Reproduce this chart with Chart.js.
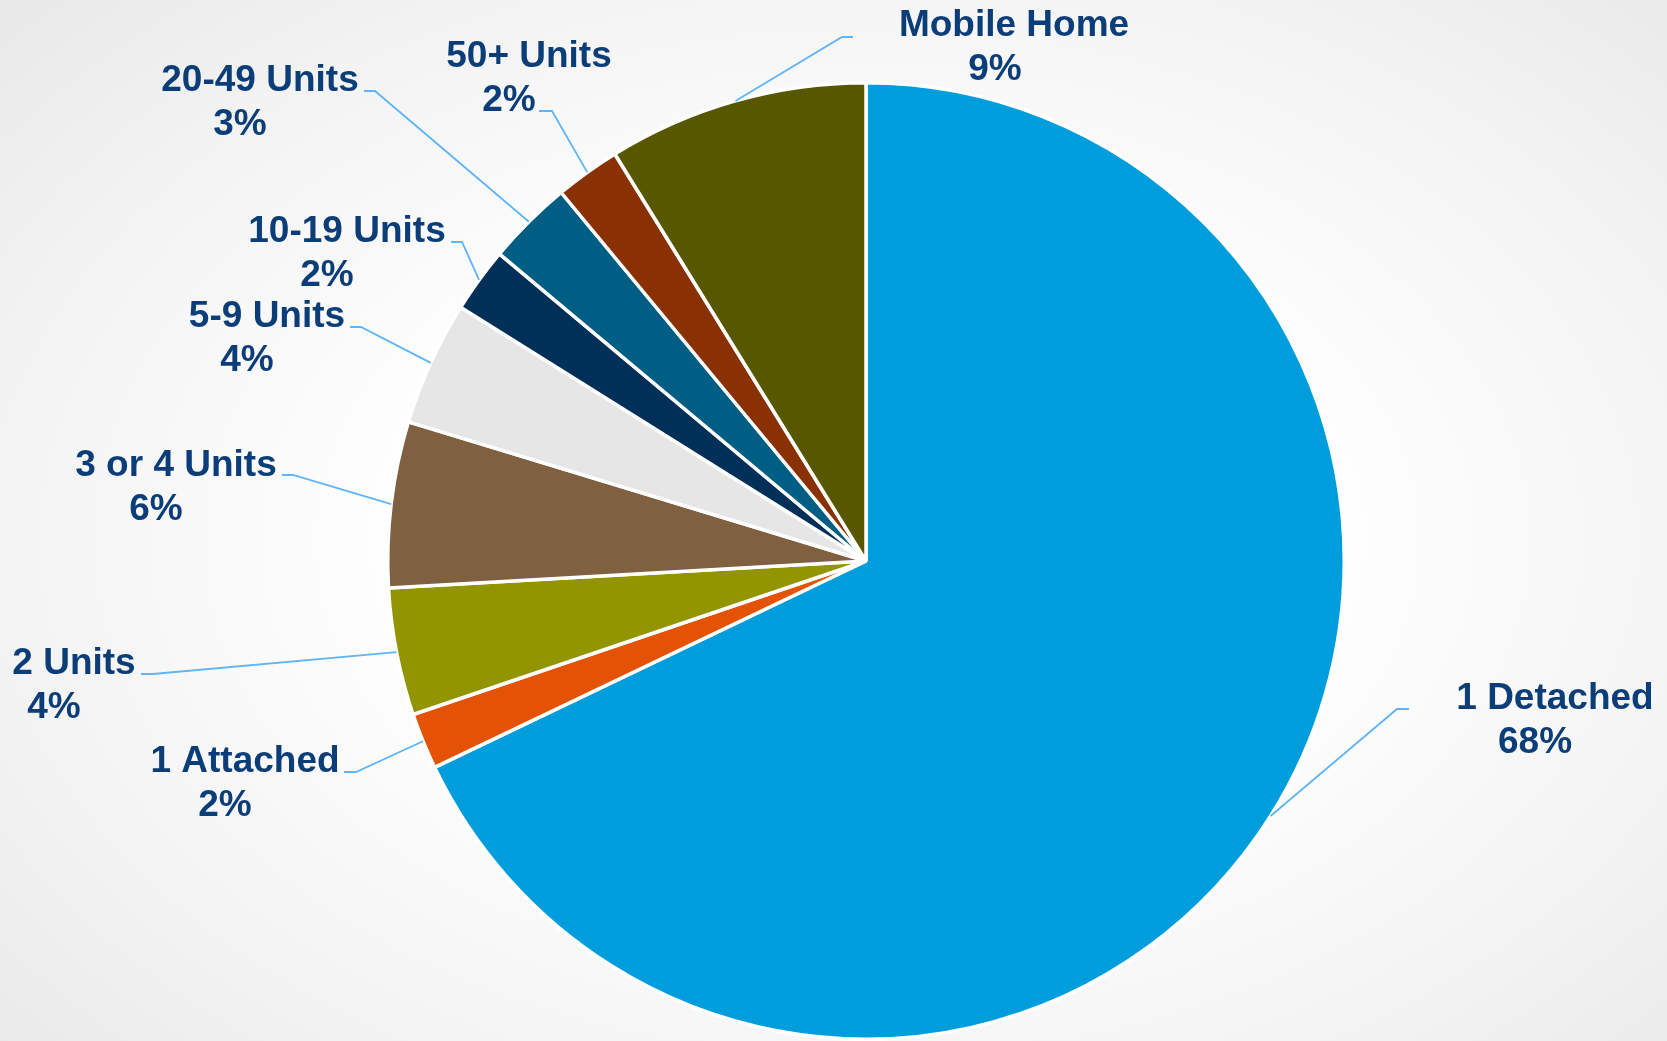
<!DOCTYPE html>
<html>
<head>
<meta charset="utf-8">
<script src="https://cdn.jsdelivr.net/npm/chart.js@4/dist/chart.umd.min.js"></script>
<style>
  html, body { margin: 0; padding: 0; width: 1667px; height: 1041px; overflow: hidden; }
  body { background: radial-gradient(ellipse 75% 80% at 52% 52%, #ffffff 0%, #ffffff 35%, #f3f3f3 70%, #e6e6e6 100%); }
  canvas { display: block; }
</style>
</head>
<body>
<canvas id="c" width="1667" height="1041"></canvas>
<script>
// ---- Data ----
const categories = ["1 Detached", "1 Attached", "2 Units", "3 or 4 Units", "5-9 Units",
                    "10-19 Units", "20-49 Units", "50+ Units", "Mobile Home"];
const shares = [67.9, 1.9, 4.3, 5.6, 4.2, 2.2, 2.9, 2.2, 8.8];
const sliceColors = ["#009DDC", "#E35205", "#929500", "#7F6040", "#E6E6E6",
                     "#003057", "#005D83", "#8A3104", "#575700"];

// Label layout (pixel offsets from pie centre): first-line centre & baseline, elbow of leader, end x of leader
const labelLayout = [
  { lx: 689,  ly: 148,  l2dx: -20, ex: 531,  ey: 148,  endx: 543 },
  { lx: -621, ly: 211,  l2dx: -20, ex: -510, ey: 211,  endx: -522 },
  { lx: -792, ly: 113,  l2dx: -20, ex: -713, ey: 113,  endx: -725 },
  { lx: -690, ly: -85,  l2dx: -20, ex: -573, ey: -86,  endx: -584 },
  { lx: -599, ly: -234, l2dx: -20, ex: -505, ey: -234, endx: -516 },
  { lx: -519, ly: -319, l2dx: -20, ex: -404, ey: -319, endx: -415 },
  { lx: -606, ly: -470, l2dx: -20, ex: -491, ey: -470, endx: -502 },
  { lx: -337, ly: -494, l2dx: -20, ex: -314, ey: -450, endx: -327 },
  { lx: 148,  ly: -525, l2dx: -19, ex: -24,  ey: -524, endx: -13 }
];

const labelPlugin = {
  id: 'leaderLabels',
  afterDatasetsDraw(chart) {
    const ctx = chart.ctx;
    const meta = chart.getDatasetMeta(0);
    const total = shares.reduce((a, b) => a + b, 0);
    ctx.save();
    meta.data.forEach((arc, i) => {
      const p = arc.getProps(['x', 'y', 'startAngle', 'endAngle', 'outerRadius'], true);
      const mid = (p.startAngle + p.endAngle) / 2;
      const sx = p.x + Math.cos(mid) * p.outerRadius;
      const sy = p.y + Math.sin(mid) * p.outerRadius;
      const L = labelLayout[i];
      // leader line
      ctx.strokeStyle = '#5FB5F7';
      ctx.lineWidth = 1.8;
      ctx.beginPath();
      ctx.moveTo(sx, sy);
      ctx.lineTo(p.x + L.ex, p.y + L.ey);
      ctx.lineTo(p.x + L.endx, p.y + L.ey);
      ctx.stroke();
      // text
      ctx.fillStyle = '#0B3D78';
      ctx.font = 'bold 37px "Liberation Sans", Arial, sans-serif';
      ctx.textAlign = 'center';
      ctx.textBaseline = 'alphabetic';
      ctx.fillText(categories[i], p.x + L.lx, p.y + L.ly);
      const pct = Math.round(shares[i] / total * 100 + 1e-9) + '%';
      ctx.fillText(pct, p.x + L.lx + L.l2dx, p.y + L.ly + 44);
    });
    ctx.restore();
  }
};

new Chart(document.getElementById('c'), {
  type: 'pie',
  data: {
    labels: categories,
    datasets: [{
      data: shares,
      backgroundColor: sliceColors,
      borderColor: '#ffffff',
      borderWidth: 3.5
    }]
  },
  options: {
    responsive: false,
    animation: false,
    layout: { padding: { left: 386, right: 321, top: 81, bottom: 0 } },
    plugins: {
      legend: { display: false },
      tooltip: { enabled: false }
    }
  },
  plugins: [labelPlugin]
});
</script>
</body>
</html>
